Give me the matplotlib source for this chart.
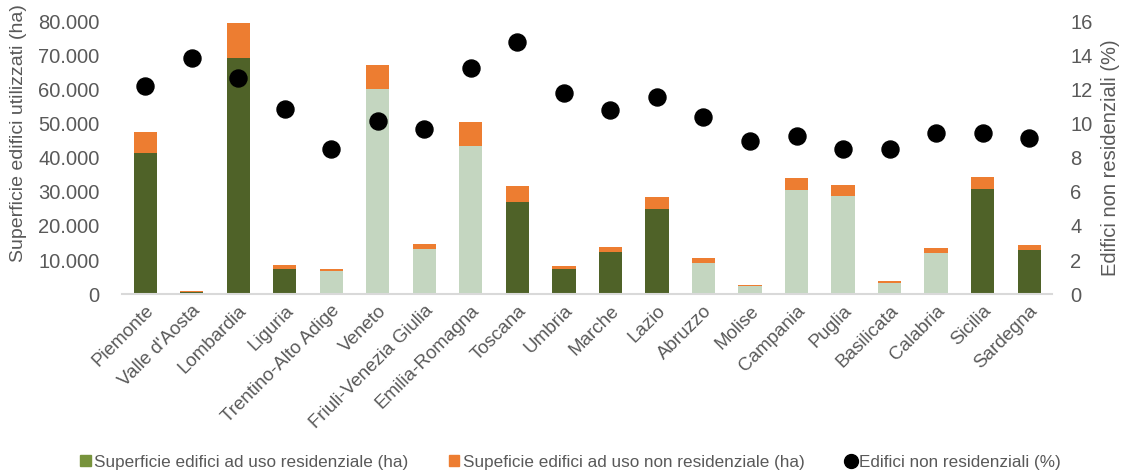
import matplotlib.pyplot as plt
import numpy as np
from matplotlib.lines import Line2D
from matplotlib.patches import Patch

plt.rcParams['font.family'] = ['Liberation Sans', 'DejaVu Sans']

regioni = ["Piemonte", "Valle d'Aosta", "Lombardia", "Liguria", "Trentino-Alto Adige",
           "Veneto", "Friuli-Venezia Giulia", "Emilia-Romagna", "Toscana", "Umbria",
           "Marche", "Lazio", "Abruzzo", "Molise", "Campania", "Puglia", "Basilicata",
           "Calabria", "Sicilia", "Sardegna"]

# superficie (ha)
residenziale = [41500, 600, 69400, 7500, 6900, 60200, 13200, 43600, 27100, 7300,
                12300, 25000, 9200, 2500, 30700, 28900, 3300, 12200, 30900, 12900]
totale = [47600, 800, 79800, 8400, 7500, 67400, 14700, 50500, 31800, 8200,
          13900, 28500, 10500, 2600, 34100, 32000, 3800, 13500, 34500, 14400]
non_residenziale = [t - r for t, r in zip(totale, residenziale)]

# edifici non residenziali (%)
perc_non_res = [12.2, 13.9, 12.7, 10.9, 8.5, 10.2, 9.7, 13.3, 14.8, 11.8,
                10.8, 11.6, 10.4, 9.0, 9.3, 8.5, 8.5, 9.45, 9.45, 9.2]

# regioni con barra scura
scure = ["Piemonte", "Valle d'Aosta", "Lombardia", "Liguria", "Toscana", "Umbria",
         "Marche", "Lazio", "Sicilia", "Sardegna"]

verde_scuro = "#4F6228"
verde_chiaro = "#C4D6C0"
verde_legenda = "#77933C"
arancio = "#ED7D31"
grigio = "#595959"

fig = plt.figure(figsize=(11.39, 4.75), dpi=100)
ax = fig.add_axes([0.107, 0.381, 0.817, 0.573])
ax2 = ax.twinx()

x = np.arange(len(regioni))
colori = [verde_scuro if r in scure else verde_chiaro for r in regioni]
ax.bar(x, residenziale, width=0.5, color=colori, zorder=2)
ax.bar(x, non_residenziale, width=0.5, bottom=residenziale, color=arancio, zorder=2)

ax2.scatter(x, perc_non_res, s=150, color="black", zorder=3)

ax.set_xlim(-0.5, len(regioni) - 0.5)
ax.set_ylim(0, 80000)
ax2.set_ylim(0, 16)
ax.set_yticks(np.arange(0, 80001, 10000))
ax.set_yticklabels(["0" if v == 0 else f"{v // 1000}.000" for v in range(0, 80001, 10000)])
ax2.set_yticks(np.arange(0, 17, 2))

ax.set_xticks(x)
ax.set_xticklabels(regioni, rotation=45, ha="right", rotation_mode="anchor")

for a in (ax, ax2):
    for s in a.spines.values():
        s.set_visible(False)
    a.tick_params(length=0, colors=grigio, labelsize=14.5)
ax.tick_params(axis="y", pad=16)
ax2.tick_params(axis="y", pad=13)
ax.spines["bottom"].set_visible(True)
ax.spines["bottom"].set_color("#D9D9D9")
ax.spines["bottom"].set_linewidth(1.5)
ax.tick_params(axis="x", labelsize=13.5, pad=6)

ax.set_ylabel("Superficie edifici utilizzati (ha)", color=grigio, fontsize=14)
ax.yaxis.set_label_coords(-0.102, 0.59)
ax2.set_ylabel("Edifici non residenziali (%)", color=grigio, fontsize=14.5, labelpad=6)

handles = [
    Patch(color=verde_legenda, label="Superficie edifici ad uso residenziale (ha)"),
    Patch(color=arancio, label="Supeficie edifici ad uso non residenziale (ha)"),
    Line2D([], [], marker="o", color="black", linestyle="none", markersize=10,
           label="Edifici non residenziali (%)"),
]
leg = fig.legend(handles=handles, loc="center", bbox_to_anchor=(0.501, 0.027), ncol=3,
                 frameon=False, fontsize=12.3, handlelength=0.6, handleheight=0.6,
                 handletextpad=0.2, columnspacing=2.4)
for t in leg.get_texts():
    t.set_color(grigio)

fig.savefig("out.png", dpi=100)
